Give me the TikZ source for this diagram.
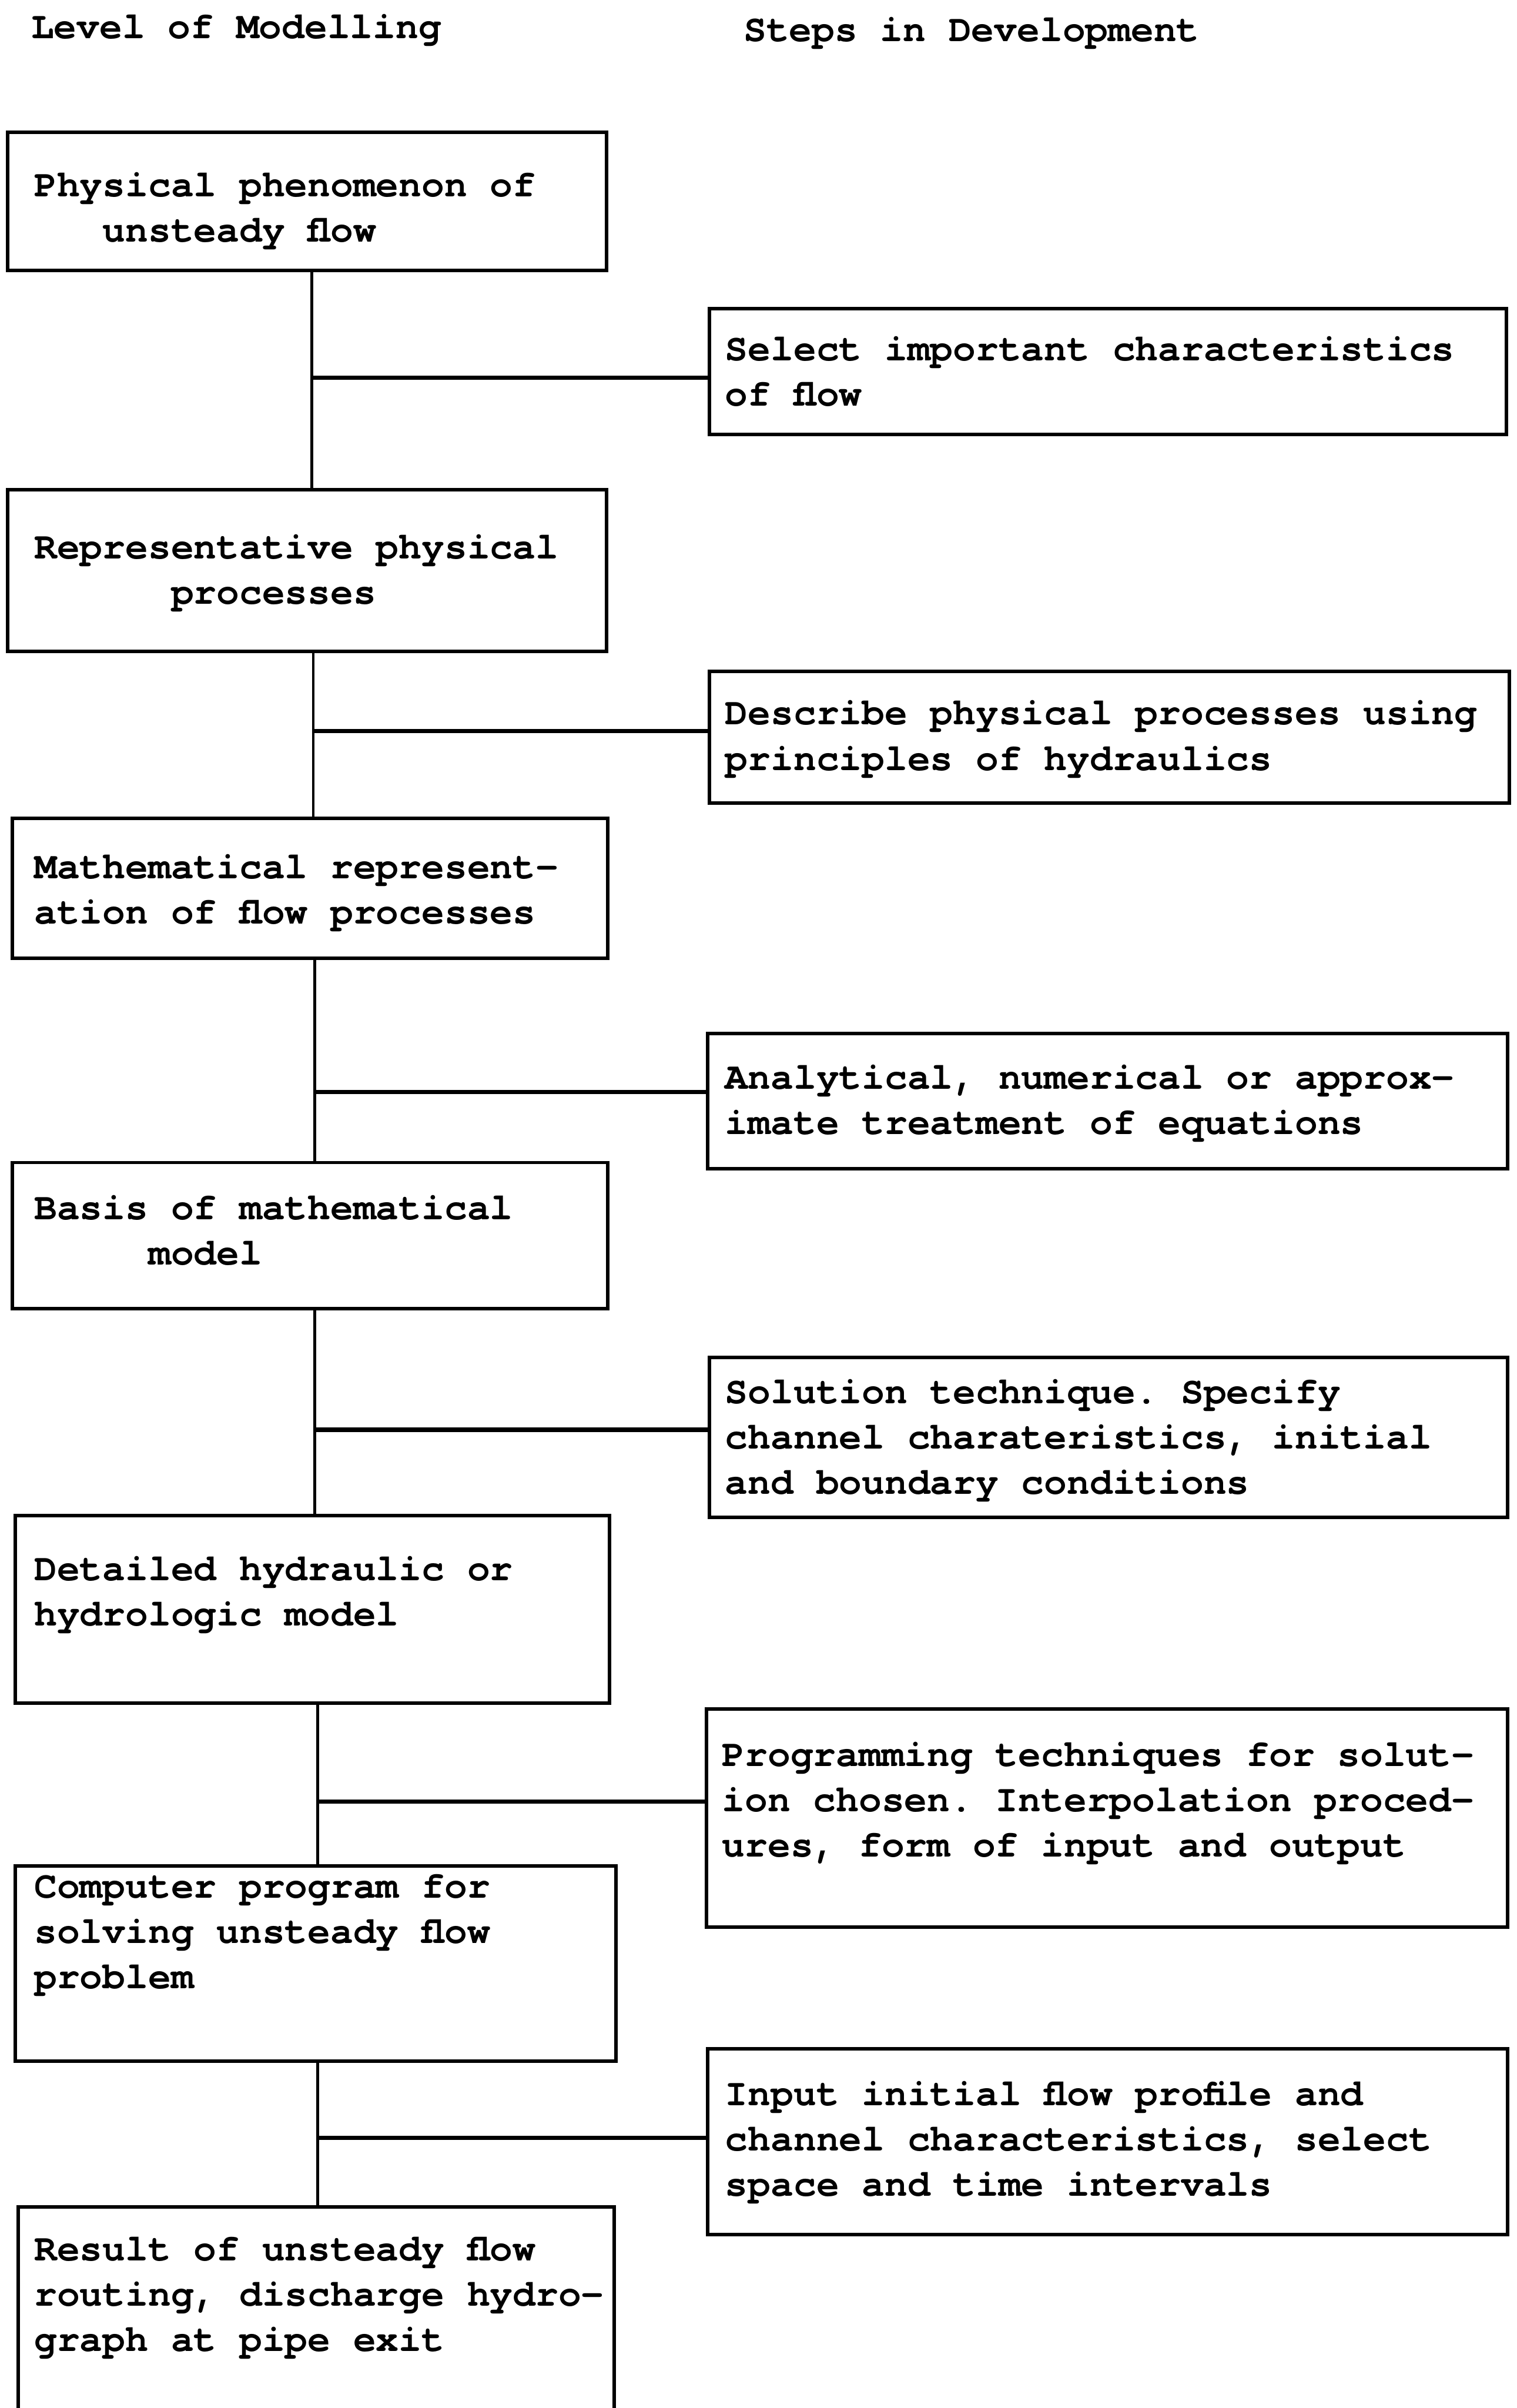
\documentclass[tikz,border=0pt]{standalone}
\usepackage{fontspec}
\setmonofont{TeX Gyre Cursor}
\usetikzlibrary{fit,calc}
\newcommand\mlines[1]{\vtop{\baselineskip=0.59cm\lineskiplimit=-100pt\lineskip=0pt #1}}
\tikzset{
  boxnode/.style={draw=black, line width=1.3pt, inner sep=0pt, rectangle},
  txt/.style={anchor=base west, inner sep=0pt, font=\ttfamily\bfseries\fontsize{14.08}{17}\selectfont},
  vline/.style={line width=1pt},
  hline/.style={line width=1.6pt},
}
\begin{document}
\begin{tikzpicture}[x=0.02cm,y=-0.02cm]
\clip (0,0) rectangle (988,1568);
\fill[white] (0,0) rectangle (988,1568);

% headers
\node[txt] (h1) at (20,25) {Level of Modelling};
\node[txt] (h2) at (484,27) {Steps in Development};

% left boxes
\node[boxnode, fit={(5,86) (395,176)}] (b1) {};
\node[boxnode, fit={(5,319) (395,424)}] (b2) {};
\node[boxnode, fit={(8,533) (396,624)}] (b3) {};
\node[boxnode, fit={(8,757) (396,852)}] (b4) {};
\node[boxnode, fit={(10,987) (397,1109)}] (b5) {};
\node[boxnode, fit={(10,1215) (401,1342)}] (b6) {};
\node[boxnode, fit={(12,1437) (400,1600)}] (b7) {};

\node[txt] (tb1) at (22,128) {\mlines{\hbox{Physical phenomenon of}\hbox{\ \ \ unsteady flow}}};
\node[txt] (tb2) at (22,364) {\mlines{\hbox{Representative physical}\hbox{\ \ \ \ \ \ processes}}};
\node[txt] (tb3) at (22,572) {\mlines{\hbox{Mathematical represent-}\hbox{ation of flow processes}}};
\node[txt] (tb4) at (22,794) {\mlines{\hbox{Basis of mathematical}\hbox{\ \ \ \ \ model}}};
\node[txt] (tb5) at (22,1029) {\mlines{\hbox{Detailed hydraulic or}\hbox{hydrologic model}}};
\node[txt] (tb6) at (22,1236) {\mlines{\hbox{Computer program for}\hbox{solving unsteady flow}\hbox{problem}}};
\node[txt] (tb7) at (22,1472) {\mlines{\hbox{Result of unsteady flow}\hbox{routing, discharge hydro-}\hbox{graph at pipe exit}}};

% right boxes
\node[boxnode, fit={(462,201) (981,283)}] (r1) {};
\node[boxnode, fit={(462,437) (983,523)}] (r2) {};
\node[boxnode, fit={(461,673) (982,761)}] (r3) {};
\node[boxnode, fit={(462,884) (982,988)}] (r4) {};
\node[boxnode, fit={(460,1113) (982,1255)}] (r5) {};
\node[boxnode, fit={(461,1334) (982,1455)}] (r6) {};

\node[txt] (tr1) at (472,235) {\mlines{\hbox{Select important characteristics}\hbox{of flow}}};
\node[txt] (tr2) at (472,472) {\mlines{\hbox{Describe physical processes using}\hbox{principles of hydraulics}}};
\node[txt] (tr3) at (472,709) {\mlines{\hbox{Analytical, numerical or approx-}\hbox{imate treatment of equations}}};
\node[txt] (tr4) at (472,914) {\mlines{\hbox{Solution technique. Specify}\hbox{channel charateristics, initial}\hbox{and boundary conditions}}};
\node[txt] (tr5) at (470,1150) {\mlines{\hbox{Programming techniques for solut-}\hbox{ion chosen. Interpolation proced-}\hbox{ures, form of input and output}}};
\node[txt] (tr6) at (472,1371) {\mlines{\hbox{Input initial flow profile and}\hbox{channel characteristics, select}\hbox{space and time intervals}}};

% junctions
\coordinate (j1) at (203,246);
\coordinate (j2) at (204,476);
\coordinate (j3) at (205,711);
\coordinate (j4) at (205,931);
\coordinate (j5) at (207,1173);
\coordinate (j6) at (207,1392);

\draw[vline] (b1.south -| j1) -- (b2.north -| j1);
\draw[vline] (b2.south -| j2) -- (b3.north -| j2);
\draw[vline] (b3.south -| j3) -- (b4.north -| j3);
\draw[vline] (b4.south -| j4) -- (b5.north -| j4);
\draw[vline] (b5.south -| j5) -- (b6.north -| j5);
\draw[vline] (b6.south -| j6) -- (b7.north -| j6);

\draw[hline] (j1) -- (r1.west |- j1);
\draw[hline] (j2) -- (r2.west |- j2);
\draw[hline] (j3) -- (r3.west |- j3);
\draw[hline] (j4) -- (r4.west |- j4);
\draw[hline] (j5) -- (r5.west |- j5);
\draw[hline] (j6) -- (r6.west |- j6);
\end{tikzpicture}
\end{document}
